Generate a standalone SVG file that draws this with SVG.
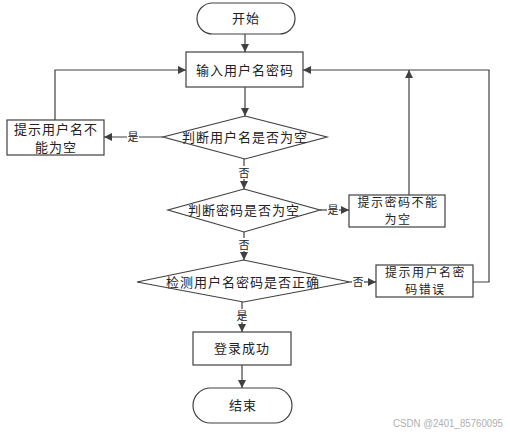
<svg xmlns="http://www.w3.org/2000/svg" width="510" height="434" viewBox="0 0 510 434">
<defs>
<marker id="arr" viewBox="0 0 10 10" refX="10" refY="5" markerWidth="8" markerHeight="8" markerUnits="userSpaceOnUse" orient="auto">
<path d="M0,0 L10,5 L0,10 z" fill="#404040"/>
</marker>
<style>
.shape{fill:#fff;stroke:#404040;stroke-width:1.2}
.t{font-family:"Noto Sans CJK SC","Noto Sans",sans-serif;font-size:13px;fill:#222;text-anchor:middle;letter-spacing:1px}
.t2{font-family:"Noto Sans CJK SC","Noto Sans",sans-serif;font-size:12px;fill:#222;text-anchor:middle;letter-spacing:1.5px}
.lbl{font-family:"Noto Sans CJK SC","Noto Sans",sans-serif;font-size:11px;fill:#222;text-anchor:middle}
.c{fill:none;stroke:#404040;stroke-width:1.2}
.bg{fill:#fff}
</style>
</defs>
<rect width="510" height="434" fill="#fff"/>
<g id="connectors">
<path class="c" d="M245,34 V52" marker-end="url(#arr)"/>
<path class="c" d="M245,87 V116" marker-end="url(#arr)"/>
<path class="c" d="M163,137 H104" marker-end="url(#arr)"/>
<path class="c" d="M55,120 V70 H186" marker-end="url(#arr)"/>
<path class="c" d="M244,159 V189" marker-end="url(#arr)"/>
<path class="c" d="M320,210 H349" marker-end="url(#arr)"/>
<path class="c" d="M409,195 V70" marker-end="url(#arr)"/>
<path class="c" d="M244,232 V260" marker-end="url(#arr)"/>
<path class="c" d="M350,282 H376" marker-end="url(#arr)"/>
<path class="c" d="M473,282 H489 V70 H303" marker-end="url(#arr)"/>
<path class="c" d="M242,302 V332" marker-end="url(#arr)"/>
<path class="c" d="M242,365 V388" marker-end="url(#arr)"/>
<rect class="bg" x="127" y="131" width="12" height="13"/>
<text class="lbl" x="133" y="141">是</text>
<rect class="bg" x="238" y="166" width="12" height="13"/>
<text class="lbl" x="244" y="177">否</text>
<rect class="bg" x="327" y="203" width="12" height="13"/>
<text class="lbl" x="333" y="214">是</text>
<rect class="bg" x="238" y="238" width="12" height="13"/>
<text class="lbl" x="244" y="249">否</text>
<rect class="bg" x="352" y="275" width="12" height="13"/>
<text class="lbl" x="358" y="286">否</text>
<rect class="bg" x="236" y="309" width="12" height="13"/>
<text class="lbl" x="242" y="320">是</text>
</g>
<g id="start">
<rect class="shape" x="197" y="3" width="98" height="31" rx="15.5"/>
<text class="t" x="246" y="23">开始</text>
</g>
<g id="input">
<rect class="shape" x="186" y="52" width="117" height="35"/>
<text class="t" x="245" y="75">输入用户名密码</text>
</g>
<g id="check-user">
<polygon class="shape" points="245,116 327,137 245,159 163,137"/>
<text class="t" x="245" y="142">判断用户名是否为空</text>
</g>
<g id="user-empty">
<rect class="shape" x="7" y="120" width="97" height="35"/>
<text class="t" x="56" y="134">提示用户名不</text>
<text class="t" x="56" y="152">能为空</text>
</g>
<g id="check-pwd">
<polygon class="shape" points="244,189 320,210 244,232 168,210"/>
<text class="t" x="244" y="215">判断密码是否为空</text>
</g>
<g id="pwd-empty">
<rect class="shape" x="349" y="195" width="96" height="32"/>
<text class="t2" x="398" y="206.5">提示密码不能</text>
<text class="t2" x="398" y="223.5">为空</text>
</g>
<g id="check-correct">
<polygon class="shape" points="243.5,260 350,282 243.5,302 137,282"/>
<text class="t" x="243" y="287">检测用户名密码是否正确</text>
</g>
<g id="wrong">
<rect class="shape" x="376" y="265" width="97" height="32"/>
<text class="t2" x="425.5" y="276.5">提示用户名密</text>
<text class="t2" x="425.5" y="293.5">码错误</text>
</g>
<g id="success">
<rect class="shape" x="193" y="332" width="98" height="33"/>
<text class="t" x="242" y="353">登录成功</text>
</g>
<g id="end">
<rect class="shape" x="193" y="388" width="99" height="35" rx="17.5"/>
<text class="t" x="243" y="410">结束</text>
</g>
<text x="393" y="427" font-family="Liberation Sans, Arial, sans-serif" font-size="10" textLength="110" lengthAdjust="spacingAndGlyphs" fill="#b0b0b0">CSDN @2401_85760095</text>
</svg>
